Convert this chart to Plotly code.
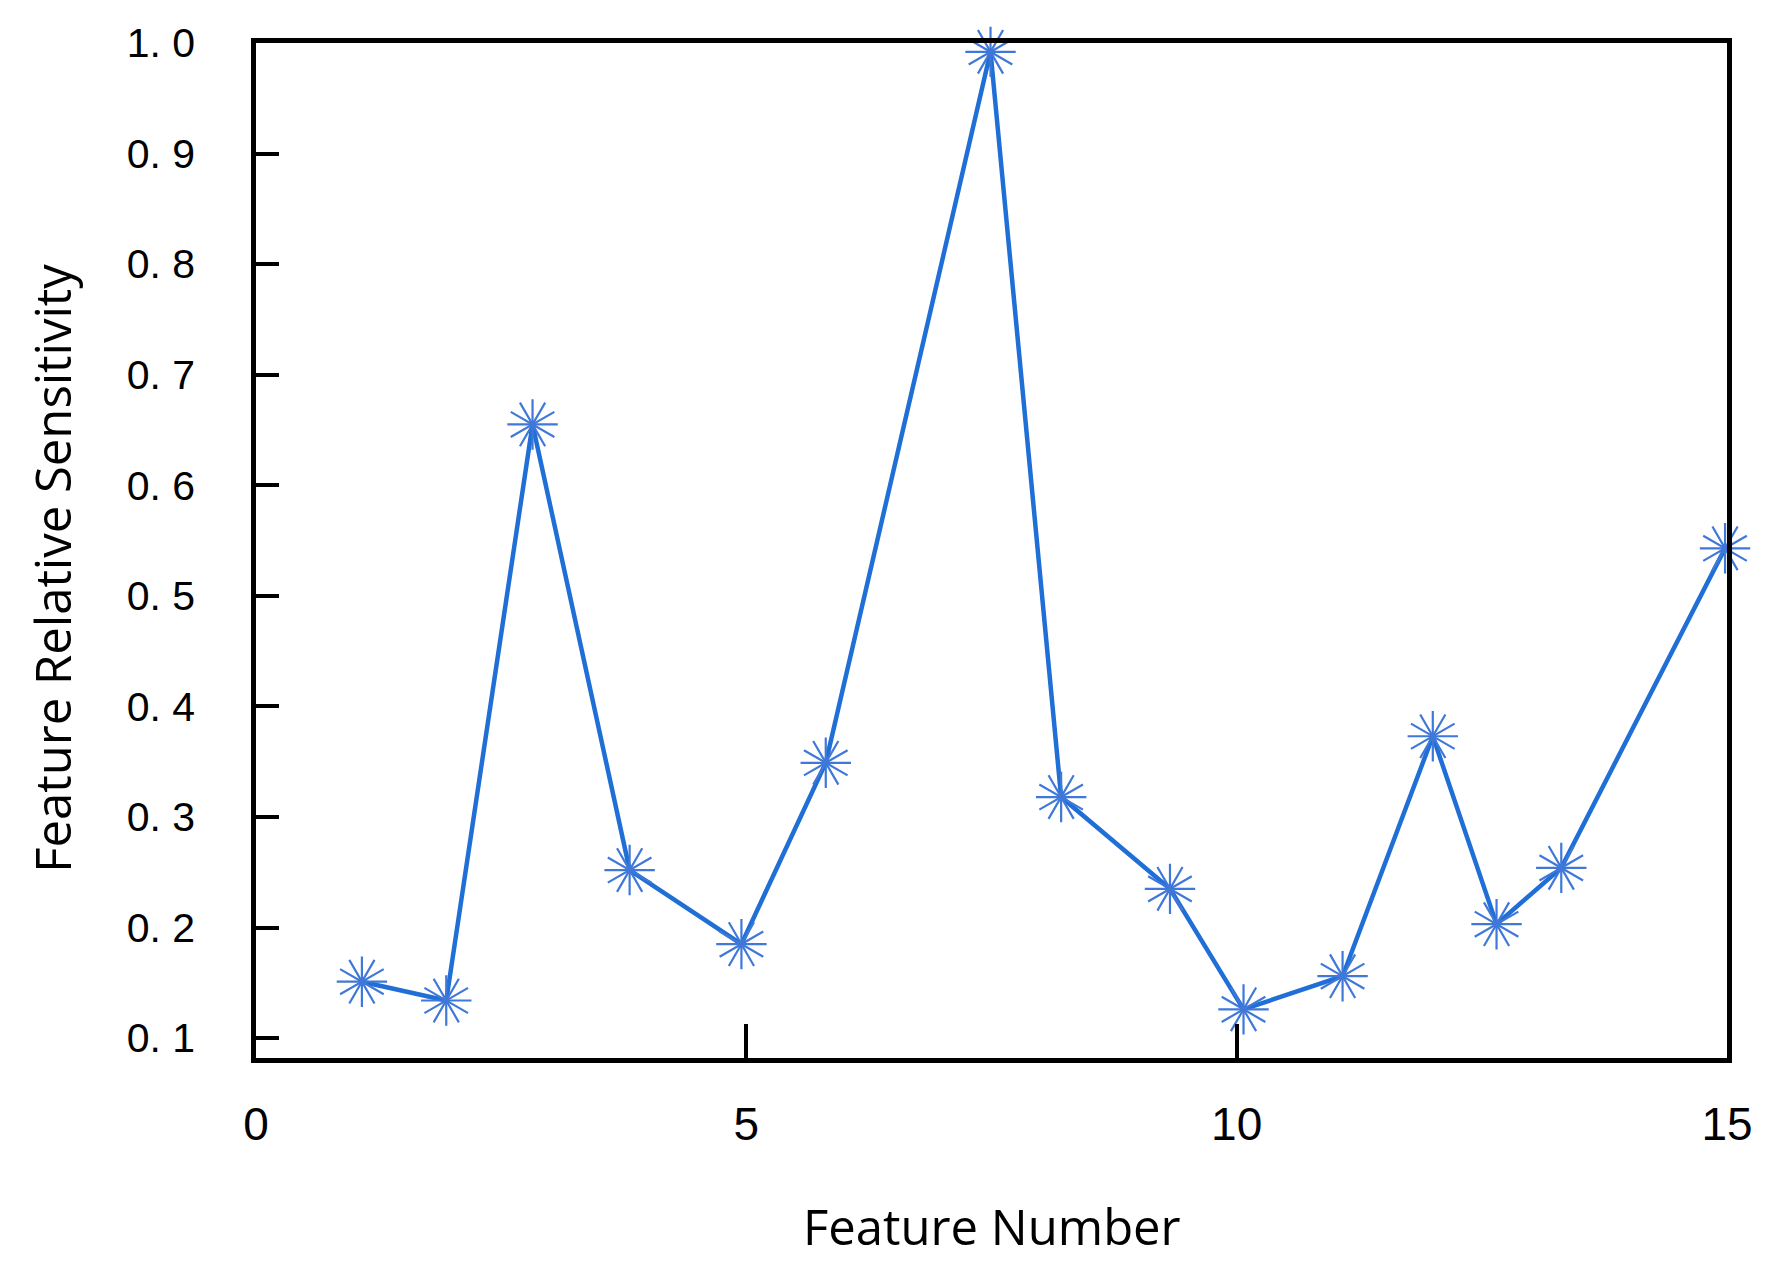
import plotly.graph_objects as go

# values
feature_pos = [1.08, 1.94, 2.82, 3.81, 4.95, 5.81, 7.49, 8.21, 9.32, 10.07,
               11.08, 12.0, 12.65, 13.31, 14.98]
sensitivity = [0.151, 0.134, 0.655, 0.252, 0.185, 0.349, 0.992, 0.318, 0.235,
               0.126, 0.156, 0.373, 0.203, 0.254, 0.543]

x_ticks = [0, 5, 10, 15]
x_labels = ["0", "5", "10", "15"]
y_ticks = [0.1, 0.2, 0.3, 0.4, 0.5, 0.6, 0.7, 0.8, 0.9, 1.0]
y_labels = ["0. 1", "0. 2", "0. 3", "0. 4", "0. 5", "0. 6", "0. 7", "0. 8", "0. 9", "1. 0"]

LINE_BLUE = "#1f6fd6"
STAR_BLUE = "#3f78d8"

fig = go.Figure()
fig.add_trace(go.Scatter(x=feature_pos, y=sensitivity, mode="lines",
                         line=dict(color=LINE_BLUE, width=4.5), hoverinfo="skip"))

# starburst markers: three thin crosses rotated 0/30/60 degrees
for ang in (0, 30, 60):
    fig.add_trace(go.Scatter(
        x=feature_pos, y=sensitivity, mode="markers",
        marker=dict(symbol="cross-thin-open", size=36, angle=ang, color=STAR_BLUE,
                    line=dict(color=STAR_BLUE, width=2.2)),
        cliponaxis=False,
    ))

ytick_font = dict(family="Liberation Sans, Arial, sans-serif", size=41, color="black")
xtick_font = dict(family="Liberation Sans, Arial, sans-serif", size=46, color="black")
title_font = dict(family="Open Sans, sans-serif", size=49, color="black")

fig.update_layout(
    width=1769, height=1264,
    margin=dict(l=248, r=50, t=28, b=214),
    paper_bgcolor="white", plot_bgcolor="white",
    showlegend=False,
    xaxis=dict(range=[0, 15], tickvals=x_ticks, ticktext=x_labels,
               ticks="inside", ticklen=34, tickwidth=3.5, tickcolor="black",
               showline=True, linecolor="black", linewidth=4.5, mirror=True,
               showgrid=False, zeroline=False, tickfont=xtick_font,
               ticklabelstandoff=22),
    yaxis=dict(range=[0.082, 1.0], tickvals=y_ticks, ticktext=y_labels,
               ticks="inside", ticklen=23, tickwidth=3.5, tickcolor="black",
               showline=True, linecolor="black", linewidth=4.5, mirror=True,
               showgrid=False, zeroline=False, tickfont=ytick_font,
               ticklabelstandoff=48),
    annotations=[
        dict(text="Feature Number", xref="paper", yref="paper", x=0.5, y=0,
             xanchor="center", yanchor="middle", yshift=-168, showarrow=False,
             font=title_font),
        dict(text="Feature Relative Sensitivity", xref="paper", yref="paper",
             x=0, y=0.482, xanchor="center", yanchor="middle", xshift=-204,
             textangle=-90, showarrow=False, font=title_font),
    ],
)

fig.write_html("out.html")
